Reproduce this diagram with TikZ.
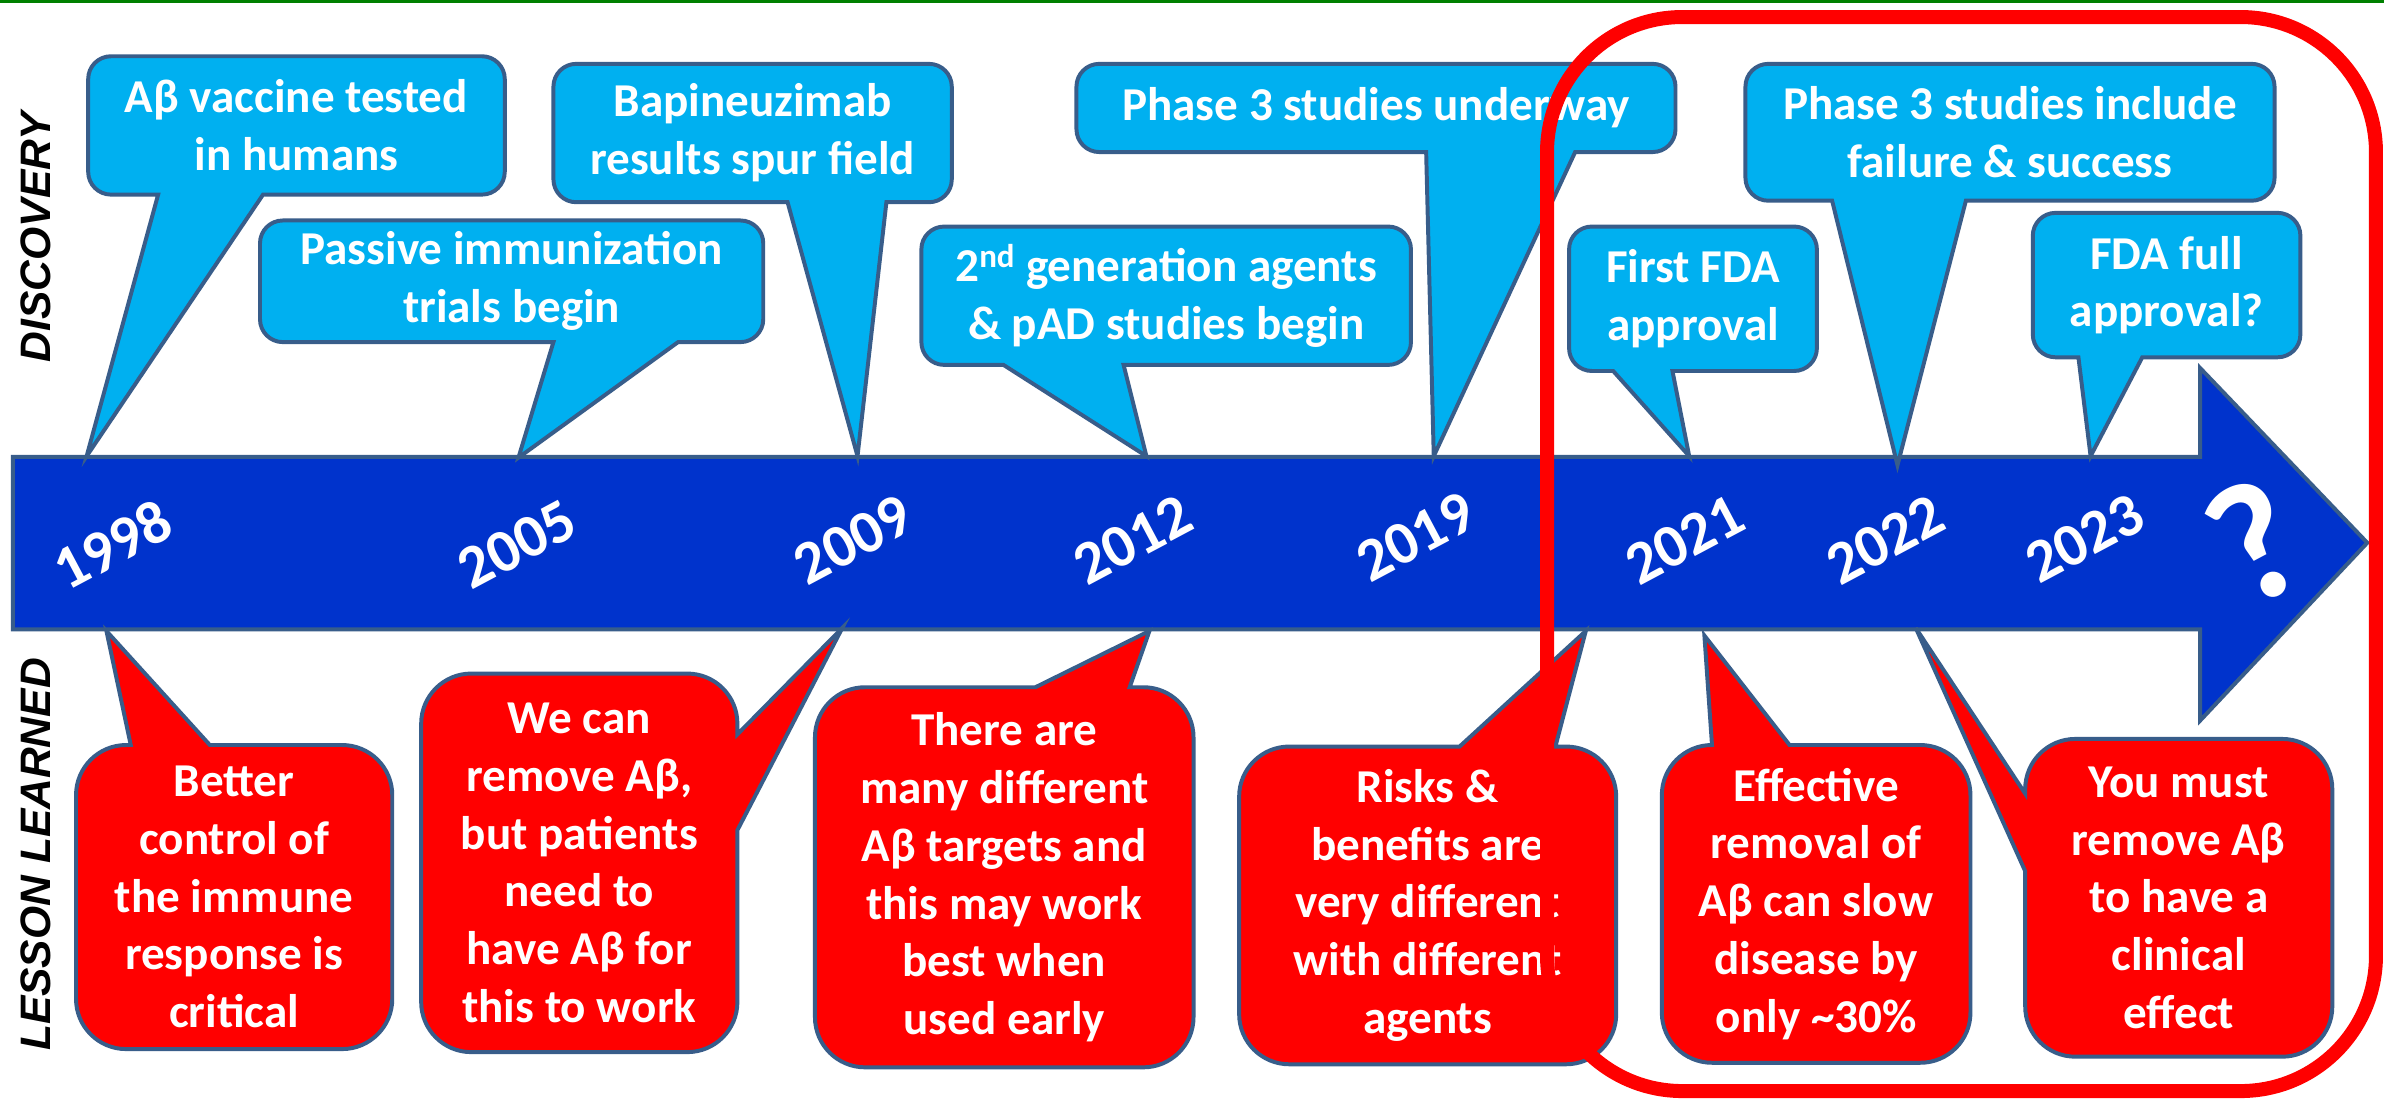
\documentclass[tikz,border=0pt]{standalone}
\usepackage{fontspec}
\setmainfont{Carlito}
\newfontfamily\sidefont{Liberation Sans}
\definecolor{bfill}{RGB}{0,176,240}
\definecolor{rfill}{RGB}{255,0,0}
\definecolor{edge}{RGB}{56,93,138}
\definecolor{arrowfill}{RGB}{0,51,204}
\definecolor{topgreen}{RGB}{0,128,0}
\newcommand\br{15}
% tail on bottom edge: style, x1,y1,x2,y2, a,b (x of tail base), tip
\newcommand\bubB[8]{%
 \draw[#1] (#2+\br,#3) -- (#4-\br,#3) arc[start angle=270,end angle=360,radius=\br]
   -- (#4,#5-\br) arc[start angle=0,end angle=90,radius=\br]
   -- (#7,#5) -- #8 -- (#6,#5)
   -- (#2+\br,#5) arc[start angle=90,end angle=180,radius=\br]
   -- (#2,#3+\br) arc[start angle=180,end angle=270,radius=\br] -- cycle;}
% tail on top edge
\newcommand\bubT[8]{%
 \draw[#1] (#2+\br,#3) -- (#6,#3) -- #8 -- (#7,#3)
   -- (#4-\br,#3) arc[start angle=270,end angle=360,radius=\br]
   -- (#4,#5-\br) arc[start angle=0,end angle=90,radius=\br]
   -- (#2+\br,#5) arc[start angle=90,end angle=180,radius=\br]
   -- (#2,#3+\br) arc[start angle=180,end angle=270,radius=\br] -- cycle;}
% tail on right edge (a,b are y of tail base)
\newcommand\bubR[8]{%
 \draw[#1] (#2+\br,#3) -- (#4-\br,#3) arc[start angle=270,end angle=360,radius=\br]
   -- (#4,#6) -- #8 -- (#4,#7)
   -- (#4,#5-\br) arc[start angle=0,end angle=90,radius=\br]
   -- (#2+\br,#5) arc[start angle=90,end angle=180,radius=\br]
   -- (#2,#3+\br) arc[start angle=180,end angle=270,radius=\br] -- cycle;}
% tail on left edge (a,b are y of tail base)
\newcommand\bubL[8]{%
 \draw[#1] (#2+\br,#3) -- (#4-\br,#3) arc[start angle=270,end angle=360,radius=\br]
   -- (#4,#5-\br) arc[start angle=0,end angle=90,radius=\br]
   -- (#2+\br,#5) arc[start angle=90,end angle=180,radius=\br]
   -- (#2,#7) -- #8 -- (#2,#6)
   -- (#2,#3+\br) arc[start angle=180,end angle=270,radius=\br] -- cycle;}
\tikzset{
 bluebub/.style={draw=edge, fill=bfill, line width=2.6pt, line join=miter},
 redbub/.style={draw=edge, fill=rfill, line width=2.6pt, line join=miter},
 arrowsty/.style={draw=edge, fill=arrowfill, line width=2.6pt, line join=miter},
 btext/.style={text=white, font=\bfseries\fontsize{31}{38}\selectfont, align=center, inner sep=0pt},
 yeartext/.style={text=white, font=\bfseries\fontsize{40}{40}\selectfont, rotate=28, inner sep=0pt},
 qtext/.style={text=white, font=\bfseries\fontsize{112}{112}\selectfont, rotate=28, inner sep=0pt},
 sidetext/.style={font=\sidefont\bfseries\itshape\fontsize{28}{30}\selectfont, rotate=90, inner sep=0pt},
 frame/.style={draw=rfill, line width=9.2pt, rounded corners=89pt},
 greenline/.style={draw=topgreen, line width=1.8pt},
}
\begin{document}
\begin{tikzpicture}[x=1pt,y=-1pt]
\useasboundingbox (0,0) rectangle (1568,722.8);
\fill[white] (0,0) rectangle (1568,722.8);
\coordinate (gl) at (0,0.9);
\coordinate (gr) at (1568,0.9);
\draw[greenline] (gl) -- (gr);

% side labels
\node[sidetext] (disc) at (23.5,156) {DISCOVERY};
\node[sidetext] (less) at (23.5,562) {LESSON LEARNED};

% timeline arrow
\draw[arrowsty] (8.5,300.5) -- (1447,300.5) -- (1447,242) -- (1557,357)
  -- (1447,474) -- (1447,414) -- (8.5,414) -- cycle;

% tail tips
\coordinate (t1) at (57,300);
\coordinate (t2) at (341,301);
\coordinate (t3) at (564,300);
\coordinate (t4) at (754,300);
\coordinate (t5) at (943,300);
\coordinate (t6) at (1111,300);
\coordinate (t7) at (1248,306);
\coordinate (t8) at (1375,300);
\coordinate (s1) at (70,415);
\coordinate (s2) at (554,413);
\coordinate (s3) at (756,415);
\coordinate (s4) at (1043,415);
\coordinate (s5) at (1121,418);
\coordinate (s6) at (1260,413);

% discovery bubbles
\renewcommand\br{15}
\bubB{bluebub}{58}{37}{332}{128}{104}{173}{(t1)}
\bubB{bluebub}{364}{42}{626}{133}{518}{583}{(t3)}
\bubB{bluebub}{171}{145}{502}{225}{364}{446}{(t2)}
\bubB{bluebub}{708}{42}{1102}{100}{938}{1036}{(t5)}
\bubB{bluebub}{606}{149}{928}{240}{660}{739}{(t4)}
\bubB{bluebub}{1032}{149}{1195}{244}{1061}{1100}{(t6)}
\bubB{bluebub}{1148}{42}{1496}{132}{1205}{1293}{(t7)}
\bubB{bluebub}{1337}{140}{1513}{235}{1367}{1409}{(t8)}

\node[btext] (b1) at (195,82.5) {Aβ vaccine tested\\in humans};
\node[btext] (b2) at (336.5,185) {Passive immunization\\trials begin};
\node[btext] (b3) at (495,87.5) {Bapineuzimab\\results spur field};
\node[btext] (b4) at (767,194.5) {2\textsuperscript{nd} generation agents\\\& pAD studies begin};
\node[btext] (b5) at (905,71) {Phase 3 studies underway};
\node[btext] (b6) at (1113.5,196.5) {First FDA\\approval};
\node[btext] (b7) at (1322,87) {Phase 3 studies include\\failure \& success};
\node[btext] (b8) at (1425,187.5) {FDA full\\approval?};

% lesson bubbles
\renewcommand\br{33}
\bubT{redbub}{50}{490}{258}{690}{86}{138}{(s1)}
\bubR{redbub}{277}{443}{485}{692}{483}{546}{(s2)}
\bubT{redbub}{536}{452}{785}{702}{681}{743}{(s3)}
\bubT{redbub}{815}{491}{1063}{700}{960}{1023}{(s4)}
\bubT{redbub}{1093}{490}{1296}{699}{1126}{1177}{(s5)}
\bubL{redbub}{1332}{486}{1534}{695}{522}{573}{(s6)}

\node[btext] (r1) at (154,590) {Better\\control of\\the immune\\response is\\critical};
\node[btext] (r2) at (381,567.5) {We can\\remove Aβ,\\but patients\\need to\\have Aβ for\\this to work};
\node[btext] (r3) at (660.5,577) {There are\\many different\\Aβ targets and\\this may work\\best when\\used early};
\node[btext] (r4) at (939,595.5) {Risks \&\\benefits are\\very different\\with different\\agents};
\node[btext] (r5) at (1194.5,594.5) {Effective\\removal of\\Aβ can slow\\disease by\\only \textasciitilde30\%};
\node[btext] (r6) at (1433,590.5) {You must\\remove Aβ\\to have a\\clinical\\effect};

% years
\node[yeartext] (y1998) at (74,358) {1998};
\node[yeartext] (y2005) at (340,358) {2005};
\node[yeartext] (y2009) at (561,355) {2009};
\node[yeartext] (y2012) at (745,355) {2012};
\node[yeartext] (y2019) at (931,353) {2019};
\node[yeartext] (y2021) at (1108,355) {2021};
\node[yeartext] (y2022) at (1240,355) {2022};
\node[yeartext] (y2023) at (1371,354) {2023};
\node[qtext] (qm) at (1483,356) {?};

% highlight frame
\draw[frame] (1017.5,11.2) rectangle (1562.7,717.6);
\end{tikzpicture}
\end{document}
